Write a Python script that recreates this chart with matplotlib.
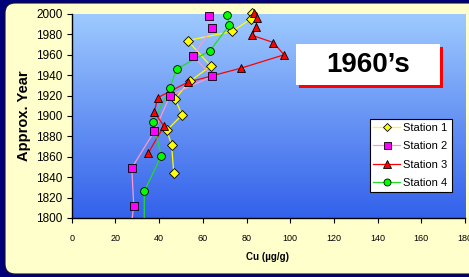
import numpy as np
import matplotlib
matplotlib.use("Agg")
import matplotlib.pyplot as plt
from matplotlib.patches import FancyBboxPatch, Rectangle

plt.rcParams['font.family'] = ['Liberation Sans', 'DejaVu Sans']

# ---- data ----
s1_cu   = [82.7, 81.9, 73.5, 53.1, 63.6, 54.1, 47.3, 50.5, 43.5, 45.7, 46.7]
s1_year = [2001, 1995, 1983, 1974, 1949, 1934, 1917, 1901, 1886, 1872, 1844]

s2_cu   = [63.0, 64.3, 55.5, 64.3, 45.0, 37.8, 27.5, 28.4, 26.8]
s2_year = [1998, 1986, 1959, 1939, 1920, 1885, 1849, 1812, 1785]

s3_cu   = [83.4, 84.9, 84.3, 82.7, 92.3, 97.2, 77.6, 53.0, 39.4, 37.8, 42.2, 35.1]
s3_year = [2001, 1996, 1987, 1979, 1972, 1960, 1947, 1933, 1918, 1904, 1890, 1864]

s4_cu   = [71.1, 72.1, 63.3, 48.0, 44.8, 37.3, 41.0, 33.2, 33.2]
s4_year = [1999, 1989, 1964, 1946, 1927, 1894, 1861, 1826, 1785]

series_names = ["Station 1", "Station 2", "Station 3", "Station 4"]
x_ticks = [0, 20, 40, 60, 80, 100, 120, 140, 160, 180]
y_ticks = [1800, 1820, 1840, 1860, 1880, 1900, 1920, 1940, 1960, 1980, 2000]
title_text = "1960\u2019s"

W, H = 469, 277
fig = plt.figure(figsize=(W / 100, H / 100), dpi=100)
fig.patch.set_facecolor('#00007a')

# background panel
bg = fig.add_axes([0, 0, 1, 1], zorder=0)
bg.set_xlim(0, W)
bg.set_ylim(H, 0)
bg.axis('off')
panel = FancyBboxPatch((5, 3), W + 20, H - 6, boxstyle="round,pad=0,rounding_size=10",
                       facecolor='#ffffcc', edgecolor='#101030', linewidth=0.8)
bg.add_patch(panel)

# main axes
L, R, T, B = 71.7, 465.0, 14.0, 218.0
ax = fig.add_axes([L / W, 1 - B / H, (R - L) / W, (B - T) / H], zorder=2)
ax.set_xlim(0, 180)
ax.set_ylim(1800, 2000)

# gradient plot area
grad = np.linspace(0, 1, 256).reshape(-1, 1)
top = np.array([0.62, 0.79, 1.0])
bot = np.array([0.20, 0.38, 0.92])
img = top[None, None, :] * (1 - grad[:, :, None]) + bot[None, None, :] * grad[:, :, None]
ax.imshow(img, extent=[0, 180, 1800, 2000], aspect='auto', origin='upper', zorder=0)

styles = [
    dict(line='#ffff00', face='#ffff00', marker='D', ms=4.6),
    dict(line='#ff99cc', face='#ff00ff', marker='s', ms=5.6),
    dict(line='#ff0000', face='#ff0000', marker='^', ms=6.2),
    dict(line='#22dd22', face='#00ff00', marker='o', ms=5.6),
]
data = [(s1_cu, s1_year), (s2_cu, s2_year), (s3_cu, s3_year), (s4_cu, s4_year)]

handles = []
for (cu, yr), st, name in zip(data, styles, series_names):
    cu = np.array(cu); yr = np.array(yr)
    ax.plot(cu, yr, color=st['line'], linewidth=0.9, zorder=3)
    m = (yr >= 1800) & (yr <= 2002)
    ax.plot(cu[m], yr[m], linestyle='none', marker=st['marker'], markersize=st['ms'],
            markerfacecolor=st['face'], markeredgecolor='black', markeredgewidth=0.6,
            zorder=4, clip_on=False)
    h, = ax.plot([], [], color=st['line'], linewidth=0.9, marker=st['marker'],
                 markersize=st['ms'] * 0.9, markerfacecolor=st['face'],
                 markeredgecolor='black', markeredgewidth=0.6, label=name)
    handles.append(h)

for s in ['top', 'right']:
    ax.spines[s].set_visible(False)
for s in ['left', 'bottom']:
    ax.spines[s].set_color('black')
    ax.spines[s].set_linewidth(1.0)

ax.set_xticks(x_ticks)
ax.set_yticks(y_ticks)
ax.set_xticklabels([str(v) for v in x_ticks], fontsize=6.5)
ax.set_yticklabels([str(v) for v in y_ticks], fontsize=8.5)
ax.tick_params(axis='both', direction='out', length=3.5, width=0.8, colors='black', pad=3)
ax.tick_params(axis='x', pad=8)

leg = ax.legend(handles=handles, loc='upper right', bbox_to_anchor=(0.966, 0.485),
                borderaxespad=0, fontsize=8, frameon=True, fancybox=False,
                handlelength=2.4, handletextpad=0.3, labelspacing=0.75,
                borderpad=0.35)
leg.get_frame().set_edgecolor('black')
leg.get_frame().set_linewidth(0.8)
leg.get_frame().set_facecolor('white')
leg.get_frame().set_alpha(1)

# overlay for annotations
ov = fig.add_axes([0, 0, 1, 1], zorder=5)
ov.set_xlim(0, W)
ov.set_ylim(H, 0)
ov.axis('off')
ov.patch.set_alpha(0)
ov.add_patch(Rectangle((299, 47), 144, 41, facecolor='#ff0000', edgecolor='none'))
ov.add_patch(Rectangle((296, 44), 144, 41, facecolor='white', edgecolor='none'))
ov.text(368, 65, title_text, fontsize=20, fontweight='bold', ha='center', va='center')

fig.text(24 / W, 1 - 116 / H, "Approx. Year", rotation=90, fontsize=10.5,
         fontweight='bold', ha='center', va='center')
fig.text(268 / W, 1 - 257 / H, "Cu (\u00b5g/g)", fontsize=7, fontweight='bold',
         ha='center', va='center')

fig.savefig('out.png', dpi=100, facecolor=fig.get_facecolor())
